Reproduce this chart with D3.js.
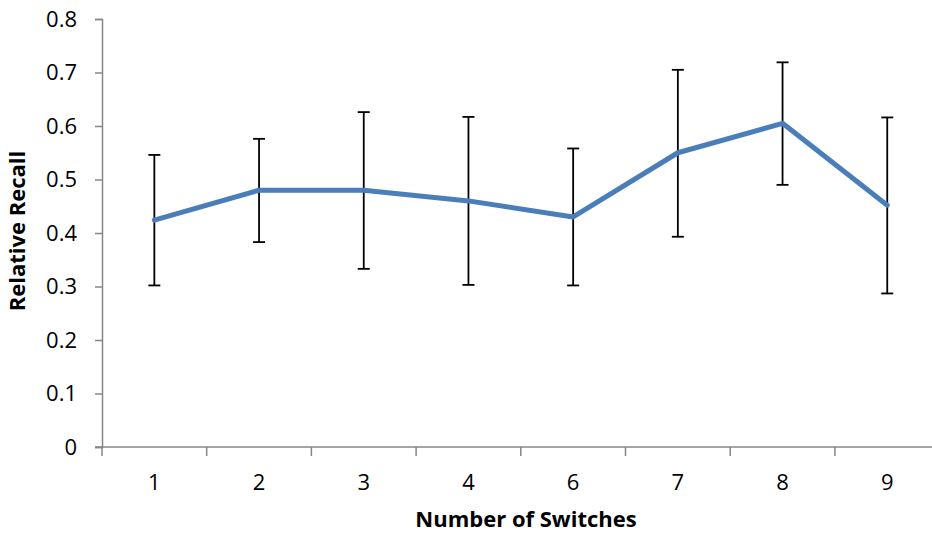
<!DOCTYPE html>
<html><head><meta charset="utf-8">
<script src="https://cdn.jsdelivr.net/npm/d3@7"></script>
<style>body{margin:0;background:#fff}svg{display:block}</style>
</head><body>
<svg id="c" width="932" height="535"></svg>
<script>
const categories = ["1","2","3","4","6","7","8","9"];
const recall = [0.424, 0.480, 0.480, 0.460, 0.430, 0.550, 0.605, 0.452];
const errUpper = [0.546, 0.576, 0.626, 0.617, 0.558, 0.705, 0.719, 0.616];
const errLower = [0.302, 0.383, 0.333, 0.303, 0.302, 0.393, 0.490, 0.287];
const yTicks = [0, 0.1, 0.2, 0.3, 0.4, 0.5, 0.6, 0.7, 0.8];
const xTitle = "Number of Switches";
const yTitle = "Relative Recall";

const svg = d3.select("#c");
const font = "'Open Sans', 'Noto Sans', sans-serif";
const x = d3.scaleBand().domain(categories).range([102, 939.6]);
const y = d3.scaleLinear().domain([0, 0.8]).range([447, 19]);
const axisColor = "#868686";

// Y axis
const ya = svg.append("g").attr("transform", "translate(102,0)")
  .call(d3.axisLeft(y).tickValues(yTicks).tickSize(7).tickPadding(18)
    .tickFormat(d => d === 0 ? "0" : d3.format(".1f")(d)));
ya.select(".domain").attr("stroke", axisColor).attr("stroke-width", 1.5);
ya.selectAll(".tick line").attr("stroke", axisColor).attr("stroke-width", 1.5);
ya.selectAll(".tick text").attr("fill", "#000").style("font-family", font).style("font-size", "22px");

// X axis: ticks at band boundaries
const xa = svg.append("g").attr("transform", "translate(0,447)");
xa.append("line").attr("x1", 95).attr("x2", 939.6).attr("y1", 0).attr("y2", 0)
  .attr("stroke", axisColor).attr("stroke-width", 1.5);
const bounds = categories.map(c => x(c)).concat([x.range()[1]]);
xa.selectAll("line.tk").data(bounds).join("line").attr("class", "tk")
  .attr("x1", d => d).attr("x2", d => d).attr("y1", 0).attr("y2", 9)
  .attr("stroke", axisColor).attr("stroke-width", 1.5);
xa.selectAll("text").data(categories).join("text")
  .attr("x", d => x(d) + x.bandwidth() / 2).attr("y", 43)
  .attr("text-anchor", "middle").attr("fill", "#000")
  .style("font-family", font).style("font-size", "22px").text(d => d);

// Error bars
const eb = svg.append("g").attr("stroke", "#000").attr("stroke-width", 1.8);
categories.forEach((c, i) => {
  const cx = x(c) + x.bandwidth() / 2;
  eb.append("line").attr("x1", cx).attr("x2", cx).attr("y1", y(errUpper[i])).attr("y2", y(errLower[i]));
  eb.append("line").attr("x1", cx - 6).attr("x2", cx + 6).attr("y1", y(errUpper[i])).attr("y2", y(errUpper[i]));
  eb.append("line").attr("x1", cx - 6).attr("x2", cx + 6).attr("y1", y(errLower[i])).attr("y2", y(errLower[i]));
});

// Line
const line = d3.line().x((d, i) => x(categories[i]) + x.bandwidth() / 2).y(d => y(d));
svg.append("path").datum(recall).attr("d", line)
  .attr("fill", "none").attr("stroke", "#4a7ebb").attr("stroke-width", 5)
  .attr("stroke-linejoin", "round").attr("stroke-linecap", "round");

// Titles
svg.append("text").attr("x", 526).attr("y", 527).attr("text-anchor", "middle")
  .style("font-family", font).style("font-size", "22px").style("font-weight", "bold")
  .text(xTitle);
svg.append("text").attr("transform", "translate(25,231) rotate(-90)").attr("text-anchor", "middle")
  .style("font-family", font).style("font-size", "22px").style("font-weight", "bold")
  .text(yTitle);
</script>
</body></html>
